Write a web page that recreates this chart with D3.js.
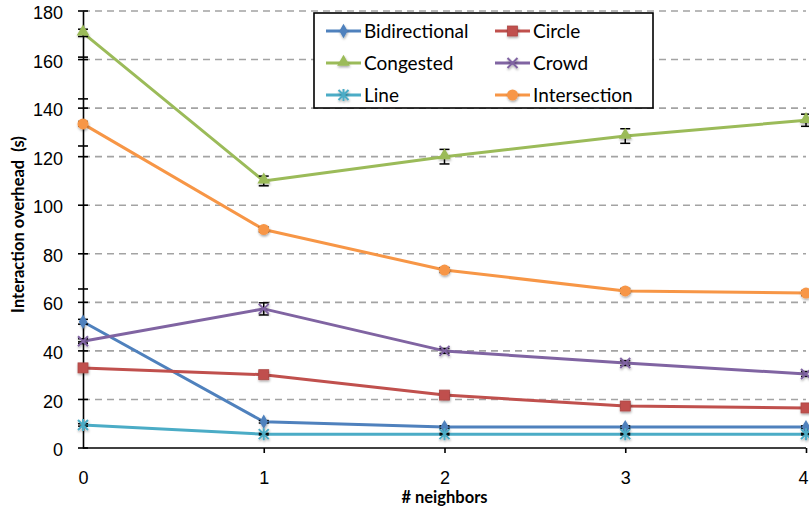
<!DOCTYPE html>
<html>
<head>
<meta charset="utf-8">
<script src="https://cdn.jsdelivr.net/npm/d3@7"></script>
<style>
  html, body { margin: 0; padding: 0; background: #fff; }
  svg { display: block; font-family: Lato, "Open Sans", sans-serif; }
</style>
</head>
<body>
<svg id="chart" width="809" height="512"></svg>
<script>
// Interaction overhead per neighbour count, one array per scenario
const neighbors = [0, 1, 2, 3, 4];
const seriesNames = ["Bidirectional", "Circle", "Congested", "Crowd", "Line", "Intersection"];
const bidirectional = [52, 10.8, 8.6, 8.6, 8.6];
const circle        = [33, 30.2, 21.8, 17.3, 16.5];
const congested     = [171, 110, 120, 128.5, 135];
const crowd         = [44, 57.3, 40, 35, 30.5];
const line          = [9.5, 5.7, 5.7, 5.7, 5.7];
const intersection  = [133.5, 90, 73.3, 64.7, 63.8];
// standard errors drawn as capped bars
const bidirectionalErr = [1, 0.5, 0.5, 0.5, 0.5];
const circleErr        = [1, 1, 1, 0.8, 0.8];
const congestedErr     = [1.5, 2, 3, 3, 2.5];
const crowdErr         = [1, 2.5, 1, 1, 1];
const lineErr          = [0.5, 0.3, 0.3, 0.3, 0.3];
const intersectionErr  = [1, 1, 1, 1, 1];
const yTickValues = [0, 20, 40, 60, 80, 100, 120, 140, 160, 180];
const yExtraTicks = [43.7, 65.5, 124.4, 143.8, 161];

const svg = d3.select("#chart");
const W = 809, H = 512;
const margin = { top: 11, right: 3, bottom: 64, left: 83 };
const plotW = W - margin.left - margin.right;
const plotH = H - margin.top - margin.bottom;

const x = d3.scaleLinear().domain([0, 4]).range([margin.left, margin.left + plotW]);
const y = d3.scaleLinear().domain([0, 180]).range([margin.top + plotH, margin.top]);

const colors = {
  Bidirectional: "#4f81bd",
  Circle: "#c0504d",
  Congested: "#9bbb59",
  Crowd: "#8064a2",
  Line: "#4bacc6",
  Intersection: "#f79646"
};
const values = {
  Bidirectional: bidirectional, Circle: circle, Congested: congested,
  Crowd: crowd, Line: line, Intersection: intersection
};
const errors = {
  Bidirectional: bidirectionalErr, Circle: circleErr, Congested: congestedErr,
  Crowd: crowdErr, Line: lineErr, Intersection: intersectionErr
};

// soft shadow under markers
const defs = svg.append("defs");
const f = defs.append("filter").attr("id", "shadow").attr("x", "-50%").attr("y", "-50%")
  .attr("width", "200%").attr("height", "200%");
f.append("feDropShadow").attr("dx", 0.5).attr("dy", 1.5).attr("stdDeviation", 1.2)
  .attr("flood-color", "#000").attr("flood-opacity", 0.35);

// horizontal dashed gridlines
svg.append("g").selectAll("line")
  .data(yTickValues.filter(v => v > 0))
  .join("line")
  .attr("x1", x(0)).attr("x2", x(4))
  .attr("y1", d => y(d)).attr("y2", d => y(d))
  .attr("stroke", "#a3a3a3").attr("stroke-width", 1.6)
  .attr("stroke-dasharray", "7,5");

// y axis
const yAxis = svg.append("g").attr("transform", `translate(${x(0)},0)`)
  .call(d3.axisLeft(y).tickValues(yTickValues).tickSize(0).tickPadding(20));
yAxis.select(".domain").attr("stroke", "#000").attr("stroke-width", 1.6);
yAxis.selectAll("text").attr("font-size", "18px").attr("fill", "#000").attr("dy", "0.42em");
svg.append("g").selectAll("line")
  .data(yTickValues.concat(yExtraTicks))
  .join("line")
  .attr("x1", x(0) - 5).attr("x2", x(0) + 5)
  .attr("y1", d => y(d)).attr("y2", d => y(d))
  .attr("stroke", "#000").attr("stroke-width", 1.6);

// x axis
const xAxis = svg.append("g").attr("transform", `translate(0,${y(0)})`)
  .call(d3.axisBottom(x).tickValues(neighbors).tickFormat(d3.format("d")).tickSize(5).tickPadding(18));
xAxis.select(".domain").attr("stroke", "#000").attr("stroke-width", 1.6).attr("d", `M${x(0)},0H${x(4)}V-0`);
xAxis.selectAll(".tick line").attr("stroke", "#000").attr("stroke-width", 1.6)
  .attr("y1", 0).attr("y2", 5);
xAxis.selectAll(".tick").filter(d => d === 0).select("line").remove();
xAxis.selectAll("text").attr("font-size", "18px").attr("fill", "#000");
// keep the last label inside the frame
xAxis.selectAll(".tick").filter(d => d === 4).select("text")
  .attr("text-anchor", "end").attr("x", W - x(4) - 1);

// axis titles
svg.append("text")
  .attr("x", x(2)).attr("y", 503)
  .attr("text-anchor", "middle")
  .attr("font-size", "16.5px").attr("font-weight", "bold")
  .text("# neighbors");
svg.append("text")
  .attr("transform", `translate(24,${(y(0) + y(180)) / 2 - 5}) rotate(-90)`)
  .attr("text-anchor", "middle")
  .attr("font-size", "16.5px").attr("font-weight", "bold")
  .attr("xml:space", "preserve")
  .text("Interaction overhead  (s)");

// marker glyphs
function drawMarker(g, name, cx, cy) {
  const c = colors[name];
  const mg = g.append("g").attr("transform", `translate(${cx},${cy})`).attr("filter", "url(#shadow)");
  if (name === "Bidirectional") {
    mg.append("path").attr("d", d3.symbol(d3.symbolDiamond, 60)()).attr("fill", c);
  } else if (name === "Circle") {
    mg.append("rect").attr("x", -5).attr("y", -5).attr("width", 10).attr("height", 10)
      .attr("fill", c).attr("stroke", d3.color(c).darker(0.3)).attr("stroke-width", 0.8);
  } else if (name === "Congested") {
    mg.append("path").attr("d", d3.symbol(d3.symbolTriangle, 70)()).attr("fill", c)
      .attr("transform", "translate(0,-1)");
  } else if (name === "Crowd") {
    mg.append("path").attr("d", "M-5,-5L5,5M-5,5L5,-5").attr("stroke", c).attr("stroke-width", 2);
  } else if (name === "Line") {
    mg.append("path").attr("d", "M-5,-5L5,5M-5,5L5,-5M0,-6V6").attr("stroke", c).attr("stroke-width", 2);
  } else if (name === "Intersection") {
    mg.append("circle").attr("r", 5.5).attr("fill", c);
  }
}

const lineGen = d3.line().x((d, i) => x(neighbors[i])).y(d => y(d));

// series lines, error bars, markers
const seriesG = svg.append("g");
seriesNames.forEach(name => {
  seriesG.append("path")
    .datum(values[name])
    .attr("d", lineGen)
    .attr("fill", "none")
    .attr("stroke", colors[name])
    .attr("stroke-width", 3)
    .attr("stroke-linejoin", "round");
});
seriesNames.forEach(name => {
  const g = seriesG.append("g");
  values[name].forEach((v, i) => {
    const cx = x(neighbors[i]);
    const e = errors[name][i];
    const eb = g.append("g").attr("stroke", "#000").attr("stroke-width", 1.5);
    eb.append("line").attr("x1", cx).attr("x2", cx).attr("y1", y(v - e)).attr("y2", y(v + e));
    eb.append("line").attr("x1", cx - 5).attr("x2", cx + 5).attr("y1", y(v + e)).attr("y2", y(v + e));
    eb.append("line").attr("x1", cx - 5).attr("x2", cx + 5).attr("y1", y(v - e)).attr("y2", y(v - e));
    drawMarker(g, name, cx, y(v));
  });
});

// legend
const lg = svg.append("g");
lg.append("rect").attr("x", 314).attr("y", 13).attr("width", 339).attr("height", 95)
  .attr("fill", "#fff").attr("stroke", "#000").attr("stroke-width", 1.6);
seriesNames.forEach((name, i) => {
  const col = i % 2, row = Math.floor(i / 2);
  const lx = 326 + col * 169, ly = 31 + row * 32;
  lg.append("line").attr("x1", lx).attr("x2", lx + 35).attr("y1", ly).attr("y2", ly)
    .attr("stroke", colors[name]).attr("stroke-width", 3);
  drawMarker(lg, name, lx + 17.5, ly);
  lg.append("text").attr("x", lx + 38).attr("y", ly).attr("dy", "0.36em")
    .attr("font-size", "19px").attr("fill", "#000").text(name);
});
</script>
</body>
</html>
